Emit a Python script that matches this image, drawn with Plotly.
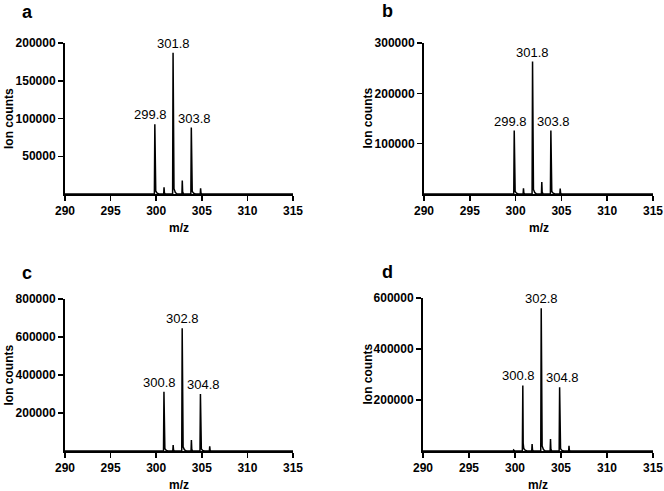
import plotly.graph_objects as go

# ---------------- data ----------------
mz_ab = [290.0, 299.80, 299.85, 299.89, 299.95, 300.10, 300.30,
         300.82, 300.86, 300.90, 301.00,
         301.80, 301.85, 301.89, 301.95, 302.10, 302.30,
         302.82, 302.86, 302.90, 303.00,
         303.80, 303.85, 303.89, 303.95, 304.10, 304.30,
         304.83, 304.87, 304.91, 305.00,
         305.86, 305.90, 306.00,
         306.86, 306.90, 307.00,
         313.86, 313.90, 314.00, 315.0]
counts_a = [0, 0, 92500, 11000, 4000, 1200, 0,
            0, 9000, 1500, 0,
            0, 187000, 20000, 7000, 2000, 0,
            0, 18000, 3000, 0,
            0, 88000, 10000, 3500, 1000, 0,
            0, 7500, 1200, 0,
            0, 1000, 0,
            0, 600, 0,
            0, 500, 0, 0]
counts_b = [0, 0, 126000, 15000, 5000, 1500, 0,
            0, 11300, 1800, 0,
            0, 263000, 28000, 9000, 2500, 0,
            0, 24000, 4000, 0,
            0, 126000, 14000, 5000, 1500, 0,
            0, 11000, 1800, 0,
            0, 1500, 0,
            0, 800, 0,
            0, 0, 0, 0]

mz_cd = [290.0, 299.82, 299.85, 299.90, 300.00,
         300.80, 300.85, 300.89, 300.95, 301.10, 301.30,
         301.82, 301.86, 301.90, 302.00,
         302.80, 302.85, 302.89, 302.95, 303.10, 303.30,
         303.82, 303.86, 303.90, 304.00,
         304.80, 304.85, 304.89, 304.95, 305.10, 305.30,
         305.83, 305.87, 305.91, 306.00,
         306.86, 306.90, 307.00,
         315.0]
counts_c = [0, 0, 0, 0, 0,
            0, 312000, 36000, 12000, 3500, 0,
            0, 31000, 5000, 0,
            0, 646000, 70000, 22000, 6000, 0,
            0, 58000, 9000, 0,
            0, 300000, 34000, 11000, 3000, 0,
            0, 25000, 4000, 0,
            0, 2000, 0,
            0]
counts_d = [0, 0, 4000, 600, 0,
            0, 257000, 30000, 10000, 3000, 0,
            0, 27000, 4500, 0,
            0, 560000, 60000, 20000, 5000, 0,
            0, 47000, 7500, 0,
            0, 250000, 28000, 9000, 2500, 0,
            0, 20000, 3000, 0,
            0, 1500, 0,
            0]

labels_a = ["299.8", "301.8", "303.8"]
labels_b = ["299.8", "301.8", "303.8"]
labels_c = ["300.8", "302.8", "304.8"]
labels_d = ["300.8", "302.8", "304.8"]

yticks_a = [50000, 100000, 150000, 200000]
yticks_b = [100000, 200000, 300000]
yticks_c = [200000, 400000, 600000, 800000]
yticks_d = [200000, 400000, 600000]
ymax_a, ymax_b, ymax_c, ymax_d = 200000, 300000, 800000, 600000
xticks = [290, 295, 300, 305, 310, 315]
panel_letters = ["a", "b", "c", "d"]

# ---------------- layout helpers ----------------
W, H = 664, 491
FONT = "Liberation Sans, Arial, Helvetica, sans-serif"

def px(x):
    return x / W

def py(y):
    return 1 - y / H

panels = [
    dict(mz=mz_ab, c=counts_a, labels=labels_a, yt=yticks_a, ymax=ymax_a,
         x0=65, x1=293, y0=43, y1=194, letter=(27, 12), ytitle_x=8.5),
    dict(mz=mz_ab, c=counts_b, labels=labels_b, yt=yticks_b, ymax=ymax_b,
         x0=424, x1=653, y0=43, y1=194, letter=(387, 11), ytitle_x=367),
    dict(mz=mz_cd, c=counts_c, labels=labels_c, yt=yticks_c, ymax=ymax_c,
         x0=65, x1=293, y0=299, y1=451, letter=(27, 273), ytitle_x=8.5),
    dict(mz=mz_cd, c=counts_d, labels=labels_d, yt=yticks_d, ymax=ymax_d,
         x0=423, x1=653, y0=298, y1=451, letter=(387, 272), ytitle_x=367),
]

fig = go.Figure()
annotations = []
layout = dict(
    template="none",
    width=W, height=H,
    margin=dict(l=0, r=0, t=0, b=0, pad=0),
    paper_bgcolor="white", plot_bgcolor="white",
    showlegend=False,
    font=dict(family=FONT, color="black"),
)

label_shift = [-4, 0, 3]

for i, p in enumerate(panels):
    n = "" if i == 0 else str(i + 1)
    xa, ya = "x" + n, "y" + n
    fig.add_trace(go.Scatter(
        x=p["mz"], y=p["c"], mode="lines",
        line=dict(color="black", width=1.5),
        xaxis=xa, yaxis=ya, hoverinfo="skip",
    ))
    layout["xaxis" + n] = dict(
        domain=[px(p["x0"]), px(p["x1"])], anchor=ya, automargin=False,
        range=[290, 315], tickvals=xticks, ticks="outside",
        ticklen=5, tickwidth=1.5, tickcolor="black",
        showline=True, linewidth=2, linecolor="black",
        showgrid=False, zeroline=False,
        tickfont=dict(family=FONT, size=12, color="black", weight="bold"),
    )
    layout["yaxis" + n] = dict(
        domain=[py(p["y1"]), py(p["y0"])], anchor=xa, automargin=False,
        range=[0, p["ymax"]], tickvals=p["yt"], tickformat="d",
        ticks="outside", ticklen=5, tickwidth=1.5, tickcolor="black",
        showline=True, linewidth=2, linecolor="black",
        showgrid=False, zeroline=False,
        tickfont=dict(family=FONT, size=12, color="black", weight="bold"),
    )
    # peak labels
    for k, lab in enumerate(p["labels"]):
        lx = float(lab)
        ly = max(c for m, c in zip(p["mz"], p["c"]) if abs(m - (lx + 0.05)) < 0.2)
        annotations.append(dict(
            x=lx + 0.05, y=ly, xref=xa, yref=ya, text=lab, showarrow=False,
            xanchor="center", yanchor="bottom", xshift=label_shift[k], yshift=0,
            font=dict(family=FONT, size=13, color="black"),
        ))
    # axis titles
    annotations.append(dict(
        x=px((p["x0"] + p["x1"]) / 2), y=py(p["y1"] + 34), xref="paper", yref="paper",
        text="m/z", showarrow=False, xanchor="center", yanchor="middle",
        font=dict(family=FONT, size=12, color="black", weight="bold"),
    ))
    annotations.append(dict(
        x=px(p["ytitle_x"]), y=py((p["y0"] + p["y1"]) / 2), xref="paper", yref="paper",
        text="Ion counts", showarrow=False, xanchor="center", yanchor="middle",
        textangle=-90,
        font=dict(family=FONT, size=12, color="black", weight="bold"),
    ))
    # panel letter
    annotations.append(dict(
        x=px(p["letter"][0]), y=py(p["letter"][1]), xref="paper", yref="paper",
        text=panel_letters[i], showarrow=False, xanchor="center", yanchor="middle",
        font=dict(family=FONT, size=18, color="black", weight="bold"),
    ))

layout["annotations"] = annotations
fig.update_layout(**layout)
fig.write_html(
    "out.html",
    config={"displayModeBar": False, "staticPlot": True},
    post_script="document.body.style.margin='0px';document.body.style.overflow='hidden';",
)
